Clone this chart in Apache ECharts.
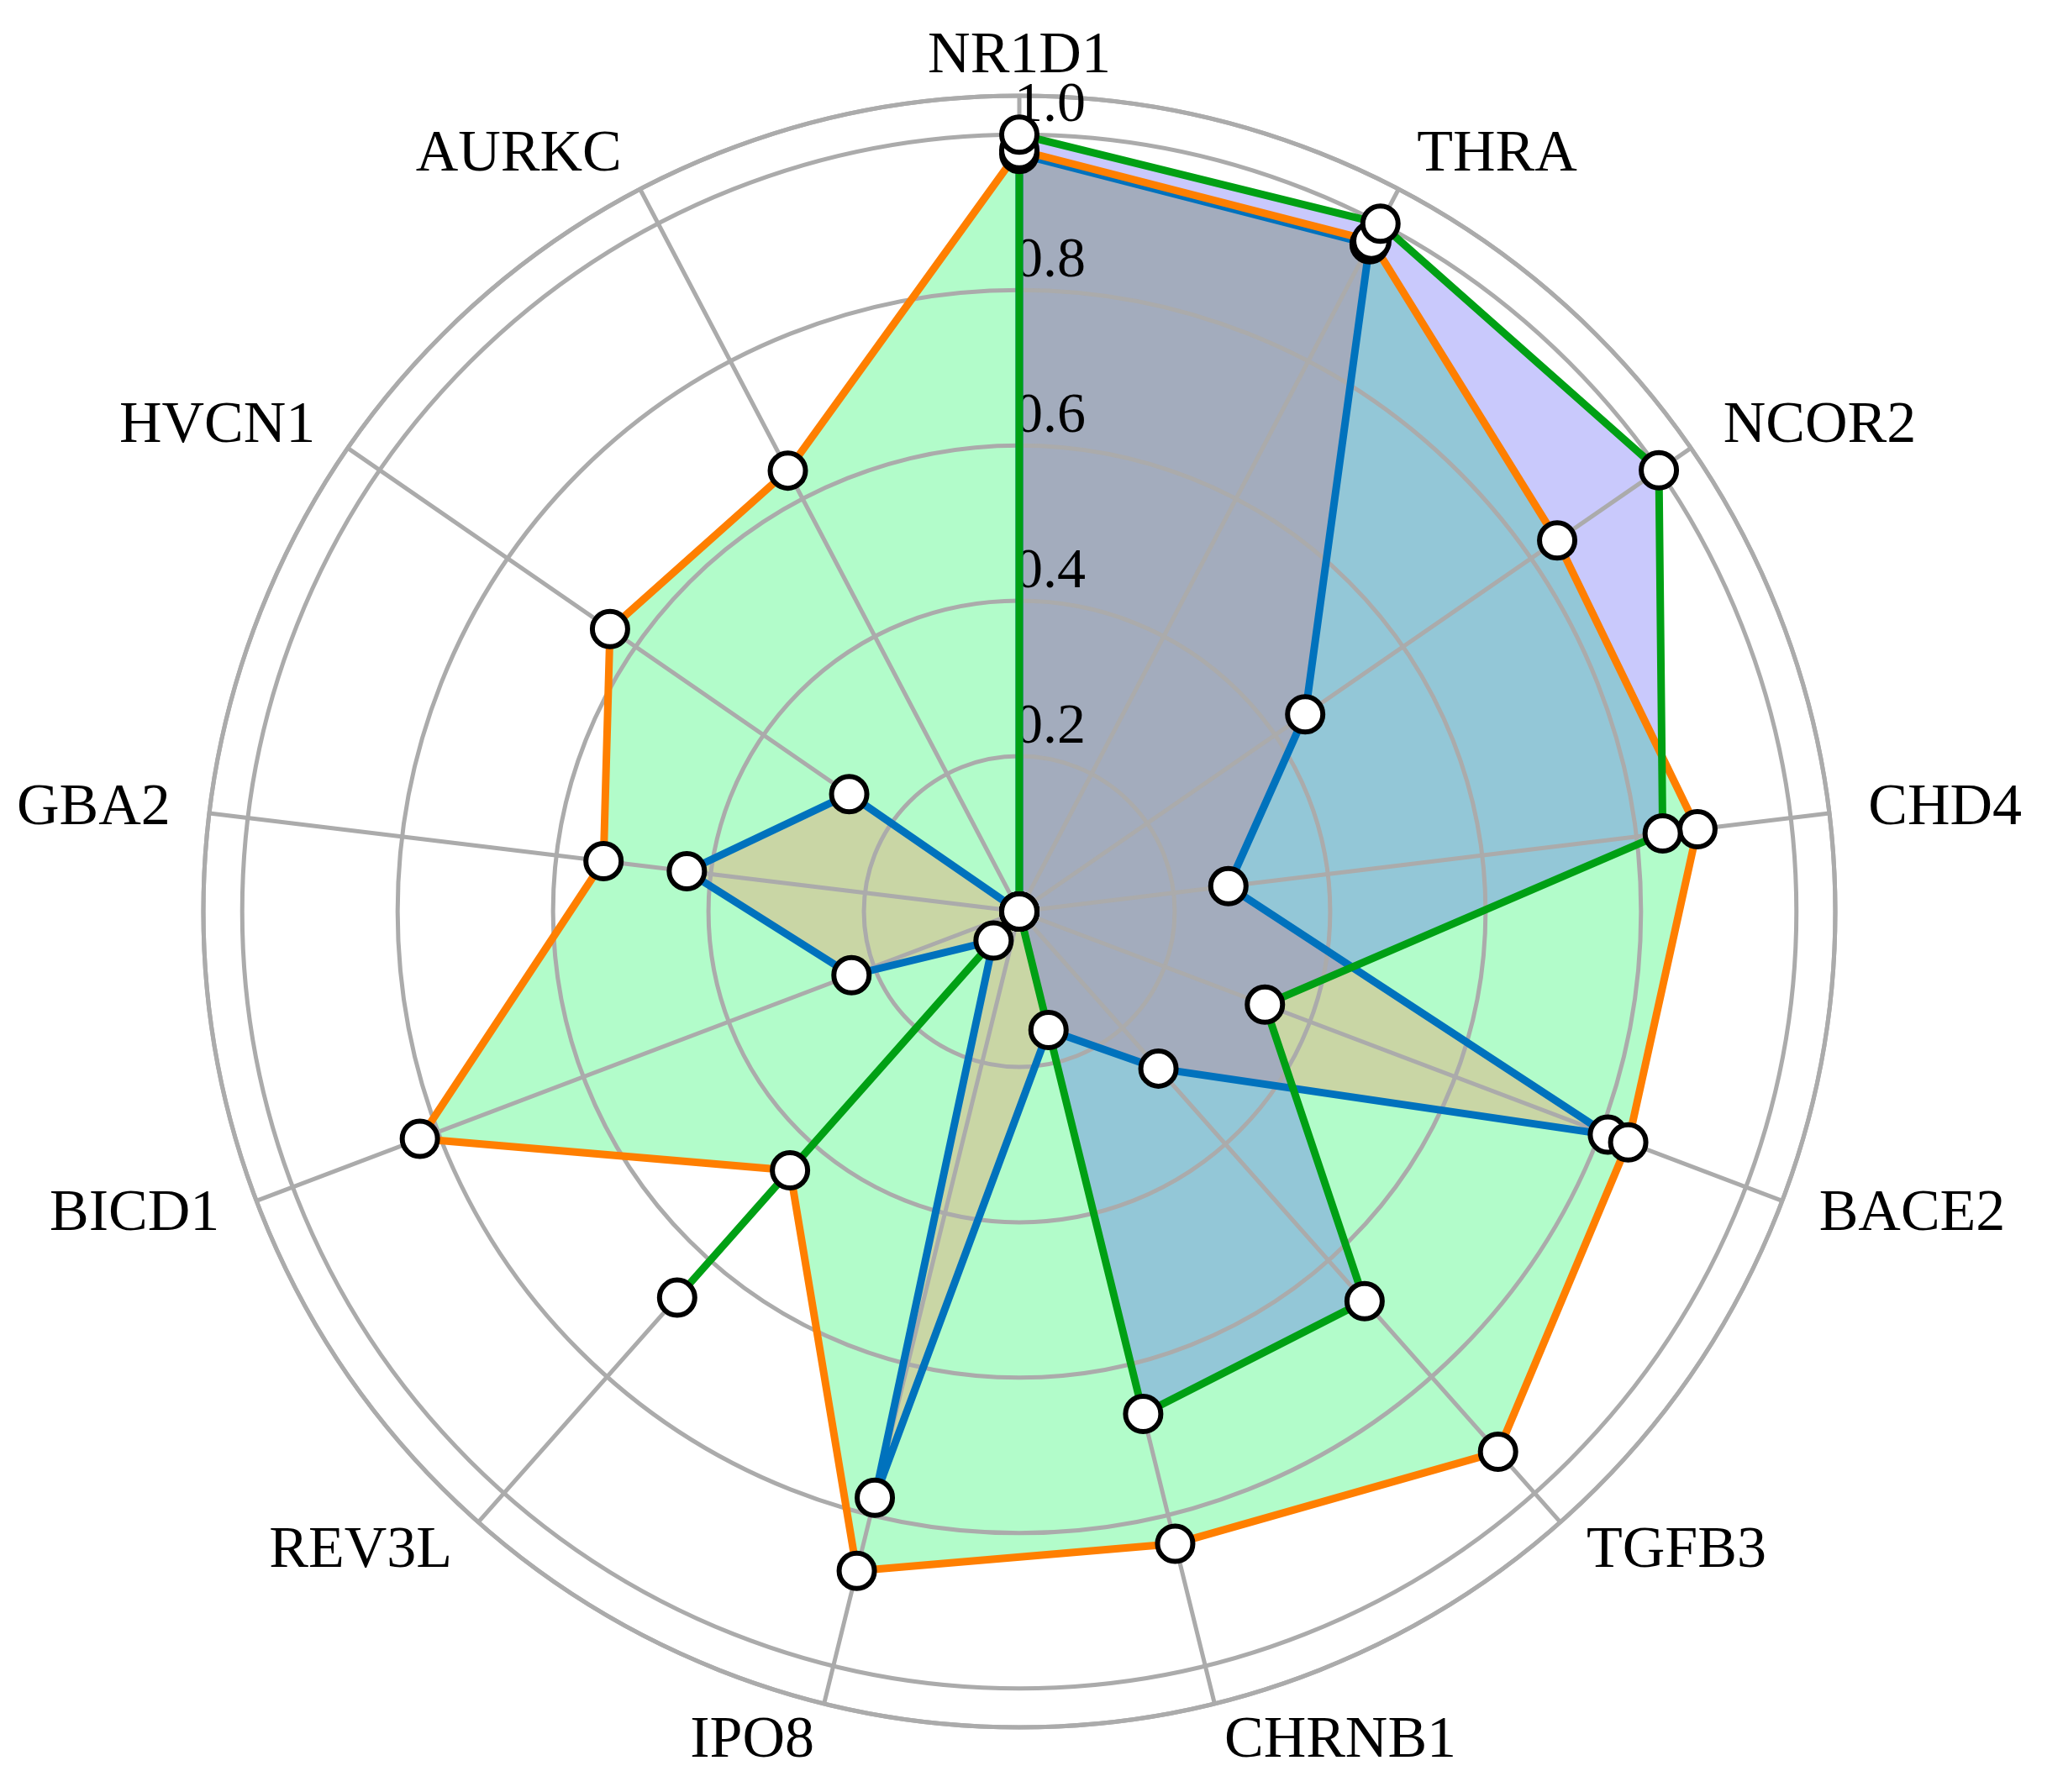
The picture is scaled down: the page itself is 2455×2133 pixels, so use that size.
<!DOCTYPE html>
<html>
<head>
<meta charset="utf-8">
<title>Radar</title>
<script src="https://cdn.jsdelivr.net/npm/echarts@6/dist/echarts.min.js"></script>
<style>
html, body { margin: 0; padding: 0; background: #fff; }
#chart { width: 2455px; height: 2133px; }
</style>
</head>
<body>
<div id="chart"></div>
<script>
// categories, clockwise from the top
const genes = ['NR1D1', 'THRA', 'NCOR2', 'CHD4', 'BACE2', 'TGFB3', 'CHRNB1', 'IPO8', 'REV3L', 'BICD1', 'GBA2', 'HVCN1', 'AURKC'];
const radialTicks = [0.2, 0.4, 0.6, 0.8, 1.0];
const blueValues = [0.975, 0.97, 0.447, 0.271, 0.81, 0.27, 0.157, 0.777, 0.05, 0.231, 0.431, 0.266, 0];
const orangeValues = [0.98, 0.975, 0.841, 0.879, 0.838, 0.929, 0.838, 0.874, 0.445, 0.825, 0.539, 0.64, 0.641];
const greenValues = [1.0, 1.0, 1.0, 0.834, 0.338, 0.67, 0.666, 0, 0.664, 0, 0, 0, 0];

const center = [1213, 1085];
const radius = 971;
const rMax = 1.05;
const labelRadius = 1.1;
const font = 'Liberation Serif';
const gridColor = '#ababab';

// radar goes counter-clockwise, so feed it NR1D1 first then the rest reversed
const order = [0].concat(genes.map((g, i) => i).slice(1).reverse());
const pick = arr => order.map(i => arr[i]);

const chart = echarts.init(document.getElementById('chart'));

//填充层
const fillSeries = (values, color) => ({
    type: 'radar',
    z: 1,
    silent: true,
    symbol: 'none',
    lineStyle: { width: 0, opacity: 0 },
    areaStyle: { color: color, opacity: 0.3 },
    data: [{ value: pick(values) }]
});
//折线层
const lineSeries = (values, color) => ({
    type: 'radar',
    z: 3,
    silent: true,
    symbol: 'circle',
    symbolSize: 42,
    lineStyle: { color: color, width: 9, opacity: 1 },
    itemStyle: { color: '#fff', borderColor: '#000', borderWidth: 6 },
    data: [{ value: pick(values) }]
});

// gene names sit at r = 1.1, left-aligned on the right half, right-aligned on the left
const nameData = genes.map((g, i) => ({
    name: g,
    value: [labelRadius, i],
    label: { position: i === 0 ? 'inside' : (i * 2 < genes.length ? 'right' : 'left') }
}));

chart.setOption({
    animation: false,
    backgroundColor: '#fff',
    polar: { center: center, radius: radius },
    // value angle axis so the rings close all the way round
    angleAxis: {
        type: 'value',
        min: 0,
        max: genes.length,
        interval: 1,
        startAngle: 90,
        clockwise: true,
        z: 2,
        axisLine: { show: true, lineStyle: { color: gridColor, width: 5 } },
        axisTick: { show: false },
        splitLine: { show: true, lineStyle: { color: gridColor, width: 5 } },
        axisLabel: { show: false }
    },
    radiusAxis: {
        type: 'value',
        min: 0,
        max: rMax,
        interval: 0.2,
        z: 2,
        axisLine: { show: false },
        axisTick: { show: false },
        splitLine: { show: true, lineStyle: { color: gridColor, width: 5 } },
        axisLabel: {
            color: '#000',
            fontFamily: font,
            fontSize: 68,
            align: 'left',
            verticalAlign: 'bottom',
            margin: 6,
            formatter: v => radialTicks.some(t => Math.abs(t - v) < 1e-6) ? v.toFixed(1) : ''
        }
    },
    radar: {
        center: center,
        radius: radius,
        startAngle: 90,
        shape: 'circle',
        indicator: order.map(i => ({ name: genes[i], min: 0, max: rMax })),
        axisName: { show: false },
        axisLine: { show: false },
        splitLine: { show: false },
        splitArea: { show: false }
    },
    series: [
        fillSeries(orangeValues, 'rgb(0,245,80)'),
        fillSeries(blueValues, 'rgb(255,127,80)'),
        fillSeries(greenValues, 'rgb(75,75,245)'),
        lineSeries(blueValues, '#0072bd'),
        lineSeries(orangeValues, '#ff7f00'),
        lineSeries(greenValues, '#00a014'),
        {
            type: 'scatter',
            coordinateSystem: 'polar',
            clip: false,
            silent: true,
            z: 4,
            symbolSize: 1,
            itemStyle: { color: 'rgba(255,255,255,0)' },
            label: {
                show: true,
                distance: 0,
                opacity: 1,
                formatter: p => p.name,
                color: '#000000',
                textBorderWidth: 0,
                fontFamily: font,
                fontSize: 70
            },
            data: nameData
        }
    ]
});
</script>
</body>
</html>
